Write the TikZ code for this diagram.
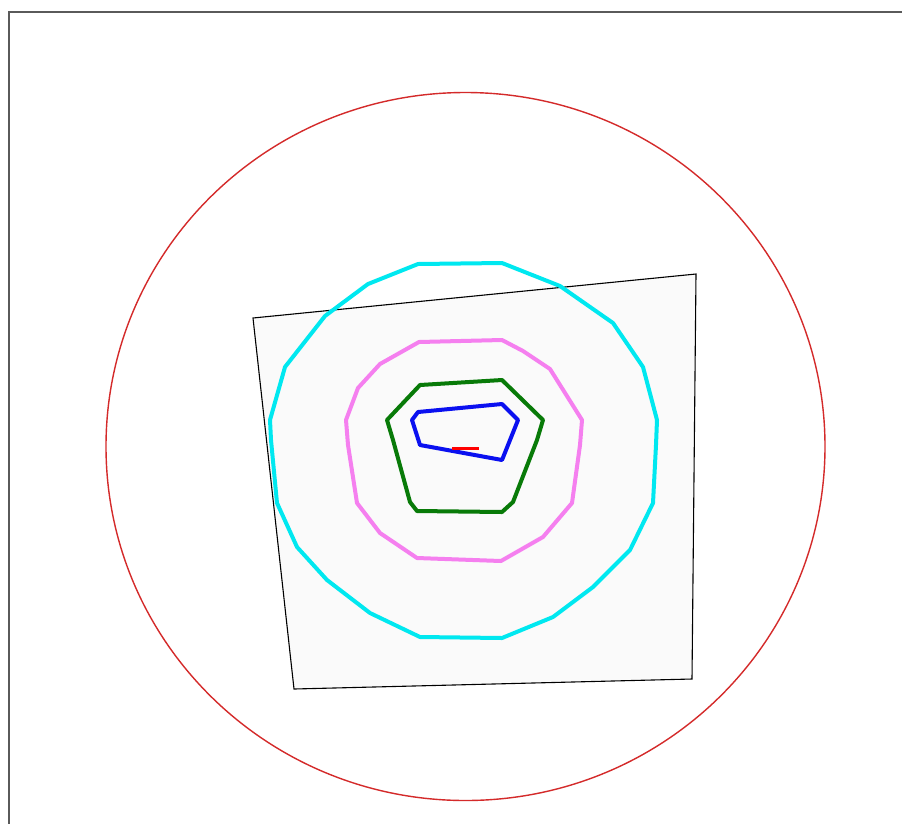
\documentclass[tikz,border=0pt]{standalone}
\usepackage{xcolor}
\definecolor{framegray}{HTML}{5A5A5A}
\definecolor{quadfill}{HTML}{FAFAFA}
\definecolor{ringred}{HTML}{D42A2A}
\definecolor{cyanc}{HTML}{00E8F0}
\definecolor{magc}{HTML}{F57FEF}
\definecolor{greenc}{HTML}{087A08}
\definecolor{bluec}{HTML}{0A10F0}
\tikzset{
  contour/.style={line width=4pt, line join=round},
}
\begin{document}
\begin{tikzpicture}[x=1pt,y=-1pt]
\useasboundingbox (0,0) rectangle (902,823);
\fill[white] (0,0) rectangle (902,823);
% frame
\draw[framegray, line width=2pt] (9,830) -- (9,12) -- (910,12);
% red circle
\draw[ringred, line width=1.4pt] (465.5,446.5) ellipse [x radius=359.5, y radius=354];
% quadrilateral
\draw[black, line width=1.1pt, fill=quadfill] (253,318) -- (696,274) -- (692,679) -- (294,689) -- cycle;
% cyan
\draw[cyanc, contour] (418,264) -- (502,263) -- (560,286) -- (613,323) -- (643,367) -- (657,420) -- (656,445) -- (653,503) -- (630,550) -- (593,587) -- (553,617) -- (502,638) -- (420,637) -- (370,613) -- (327,580) -- (297,547) -- (277,503) -- (271,440) -- (270,420) -- (285,367) -- (325,316) -- (368,284) -- cycle;
% magenta
\draw[magc, contour] (419,342) -- (502,340) -- (523,351) -- (550,369) -- (582,420) -- (580,445) -- (572,503) -- (543,537) -- (501,561) -- (417,558) -- (380,533) -- (357,503) -- (348,445) -- (346,420) -- (358,388) -- (380,364) -- cycle;
% green
\draw[greenc, contour] (420,385) -- (502,380) -- (543,420) -- (537,440) -- (513,502) -- (502,512) -- (417,511) -- (410,502) -- (393,440) -- (387,420) -- cycle;
% blue
\draw[bluec, contour] (418,412) -- (502,404) -- (518,420) -- (502,460) -- (420,445) -- (412,420) -- cycle;
% red segment
\draw[red, line width=3.4pt] (452,448.5) -- (478.5,448.5);
\end{tikzpicture}
\end{document}
